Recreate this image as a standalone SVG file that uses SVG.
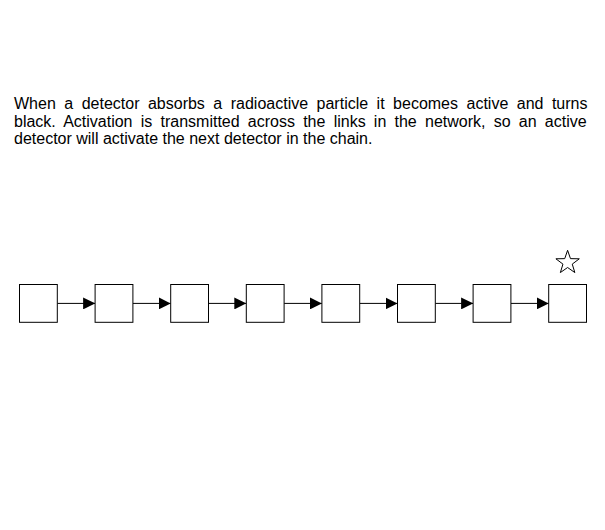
<svg xmlns="http://www.w3.org/2000/svg" width="605" height="530" viewBox="0 0 605 530">
<style>
.t{font-family:"Liberation Sans",Arial,sans-serif;font-size:16px;fill:#000}
.box{fill:#fff;stroke:#000;stroke-width:1}
.link{stroke:#000;stroke-width:1;fill:none;marker-end:url(#arr)}
.star{fill:#fff;stroke:#000;stroke-width:1}
</style>
<defs>
<marker id="arr" markerUnits="userSpaceOnUse" markerWidth="12" markerHeight="12" viewBox="0 0 10 10" refX="10" refY="5" orient="auto">
<path d="M0,0 L10,5 L0,10 Z" fill="#000"/>
</marker>
</defs>
<rect width="605" height="530" fill="#fff"/>
<g id="caption">
<text class="t" x="14" y="109.3" word-spacing="4.03">When a detector absorbs a radioactive particle it becomes active and turns</text>
<text class="t" x="14" y="126.7" word-spacing="3.77">black. Activation is transmitted across the links in the network, so an active</text>
<text class="t" x="14" y="144">detector will activate the next detector in the chain.</text>
</g>
<g id="connectors">
<line class="link" x1="57.3" y1="303.4" x2="95.1" y2="303.4"/>
<line class="link" x1="132.9" y1="303.4" x2="170.7" y2="303.4"/>
<line class="link" x1="208.5" y1="303.4" x2="246.3" y2="303.4"/>
<line class="link" x1="284.1" y1="303.4" x2="321.9" y2="303.4"/>
<line class="link" x1="359.7" y1="303.4" x2="397.5" y2="303.4"/>
<line class="link" x1="435.3" y1="303.4" x2="473.1" y2="303.4"/>
<line class="link" x1="510.9" y1="303.4" x2="548.7" y2="303.4"/>
</g>
<g id="d1"><rect class="box" x="19.5" y="284.5" width="37.8" height="37.8"/></g>
<g id="d2"><rect class="box" x="95.1" y="284.5" width="37.8" height="37.8"/></g>
<g id="d3"><rect class="box" x="170.7" y="284.5" width="37.8" height="37.8"/></g>
<g id="d4"><rect class="box" x="246.3" y="284.5" width="37.8" height="37.8"/></g>
<g id="d5"><rect class="box" x="321.9" y="284.5" width="37.8" height="37.8"/></g>
<g id="d6"><rect class="box" x="397.5" y="284.5" width="37.8" height="37.8"/></g>
<g id="d7"><rect class="box" x="473.1" y="284.5" width="37.8" height="37.8"/></g>
<g id="d8"><rect class="box" x="548.7" y="284.5" width="37.8" height="37.8"/></g>
<g id="star">
<polygon class="star" points="567.6,250.3 570.48,258.64 579.3,258.8 572.26,264.11 574.83,272.55 567.6,267.5 560.37,272.55 562.94,264.11 555.9,258.8 564.72,258.64"/>
</g>
</svg>
